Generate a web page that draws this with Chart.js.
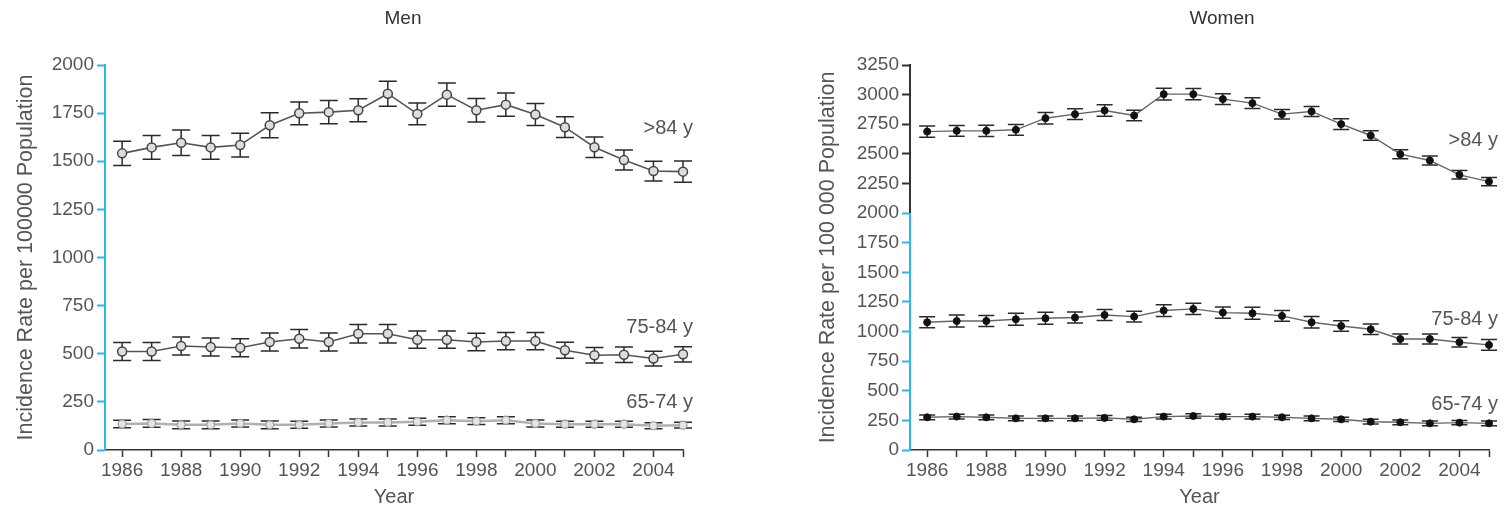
<!DOCTYPE html>
<html>
<head>
<meta charset="utf-8">
<script src="https://cdn.jsdelivr.net/npm/chart.js@4"></script>
<style>
  body { margin: 0; background: #fff; }
  .panel { position: absolute; top: 0; }
</style>
</head>
<body>
<div class="panel" style="left:0"><canvas id="menChart" width="800" height="511"></canvas></div>
<div class="panel" style="left:800px"><canvas id="womenChart" width="707" height="511"></canvas></div>
<script>
const years = [1986, 1987, 1988, 1989, 1990, 1991, 1992, 1993, 1994, 1995,
               1996, 1997, 1998, 1999, 2000, 2001, 2002, 2003, 2004, 2005];
const seriesNames = ['>84 y', '75-84 y', '65-74 y'];

// Men, incidence per 100 000, with half-width of the error bar
const menOver84 = [1541, 1572, 1596, 1572, 1584, 1687, 1749, 1755, 1765, 1851,
                   1746, 1846, 1765, 1794, 1743, 1677, 1573, 1506, 1449, 1446];
const menOver84Err = [63, 62, 66, 62, 62, 65, 59, 60, 60, 65,
                      56, 60, 61, 60, 57, 54, 53, 52, 51, 55];
const men75to84 = [512, 512, 540, 535, 531, 561, 578, 561, 604, 604,
                   573, 573, 561, 566, 566, 518, 492, 495, 475, 497];
const men75to84Err = [47, 47, 47, 47, 47, 47, 48, 47, 48, 48,
                      45, 45, 45, 45, 45, 42, 40, 40, 38, 40];
const men65to74 = [135, 138, 131, 131, 138, 131, 131, 138, 143, 143,
                   147, 155, 150, 155, 138, 134, 134, 134, 126, 129];
const men65to74Err = [20, 20, 20, 20, 18, 20, 18, 18, 18, 18,
                      18, 18, 18, 18, 18, 16, 16, 16, 15, 15];

// Women
const womenOver84 = [2688, 2694, 2694, 2703, 2801, 2835, 2866, 2824, 3004, 3004,
                     2962, 2928, 2835, 2858, 2751, 2655, 2497, 2444, 2323, 2266];
const womenOver84Err = [48, 45, 48, 45, 48, 45, 48, 45, 49, 48,
                        45, 45, 40, 42, 45, 40, 38, 38, 36, 35];
const women75to84 = [1078, 1089, 1089, 1104, 1112, 1118, 1140, 1126, 1177, 1191,
                     1160, 1154, 1132, 1078, 1047, 1019, 937, 937, 910, 887];
const women75to84Err = [46, 50, 46, 50, 50, 46, 46, 45, 50, 48,
                        48, 50, 45, 48, 45, 45, 42, 42, 40, 45];
const women65to74 = [276, 282, 276, 267, 267, 267, 271, 259, 282, 287,
                     282, 282, 276, 267, 259, 239, 234, 225, 231, 225];
const women65to74Err = [20, 20, 20, 20, 20, 20, 20, 18, 20, 20,
                        20, 20, 18, 20, 18, 20, 20, 20, 18, 20];

const menTicks = [0, 2000, 250];
const womenTicks = [0, 3250, 250];

const FONT = '"Liberation Sans", Arial, sans-serif';
const CYAN = '#2bb7ec';
const TXT = '#555';

function points(vals) {
    return vals.map((v, i) => ({ x: years[i], y: v }));
}

// draws the vertical error bars with caps, under the line and points
const errorBars = {
    id: 'errorBars',
    beforeDatasetDraw(chart, args) {
        const ds = chart.data.datasets[args.index];
        if (!ds.errors) return;
        const ctx = chart.ctx;
        const ys = chart.scales.y;
        const cap = ds.capHalf || 8;
        ctx.save();
        ctx.strokeStyle = '#2a2a2a';
        ctx.lineWidth = 1.5;
        args.meta.data.forEach((pt, i) => {
            const v = ds.data[i].y, e = ds.errors[i];
            const top = ys.getPixelForValue(v + e);
            const bot = ys.getPixelForValue(v - e);
            ctx.beginPath();
            ctx.moveTo(pt.x, top); ctx.lineTo(pt.x, bot);
            ctx.moveTo(pt.x - cap, top); ctx.lineTo(pt.x + cap, top);
            ctx.moveTo(pt.x - cap, bot); ctx.lineTo(pt.x + cap, bot);
            ctx.stroke();
        });
        ctx.restore();
    }
};

// panel title, series labels and the dark upper part of the women axis
const panelText = {
    id: 'panelText',
    afterDraw(chart, args, opts) {
        const ctx = chart.ctx;
        const xs = chart.scales.x, ys = chart.scales.y;
        ctx.save();
        ctx.font = '19px ' + FONT;
        ctx.fillStyle = '#333';
        ctx.textAlign = 'center';
        ctx.textBaseline = 'middle';
        ctx.fillText(opts.title, opts.titleX, 19);

        ctx.fillStyle = TXT;
        ctx.font = '20px ' + FONT;
        ctx.textAlign = 'right';
        const xr = xs.getPixelForValue(years[years.length - 1]) + opts.labelDx;
        chart.data.datasets.forEach((ds, i) => {
            const last = ds.data[ds.data.length - 1].y;
            ctx.fillText(ds.label, xr, ys.getPixelForValue(last) + opts.labelDy[i]);
        });

        if (opts.darkFrom !== undefined) {
            ctx.strokeStyle = '#333';
            ctx.lineWidth = 2;
            ctx.beginPath();
            ctx.moveTo(chart.chartArea.left, ys.getPixelForValue(opts.darkFrom));
            ctx.lineTo(chart.chartArea.left, ys.getPixelForValue(ys.max) - 1);
            ctx.stroke();
        }
        ctx.restore();
    }
};

function makeChart(id, cfg) {
    const ctx = document.getElementById(id).getContext('2d');
    return new Chart(ctx, {
        type: 'line',
        data: { datasets: cfg.datasets },
        options: {
            responsive: false,
            animation: false,
            events: [],
            layout: { padding: { top: 65, right: cfg.padRight, left: 0, bottom: 0 } },
            plugins: {
                legend: { display: false },
                tooltip: { enabled: false },
                panelText: cfg.text
            },
            scales: {
                x: {
                    type: 'linear',
                    min: 1985.42,
                    max: 2005,
                    ticks: {
                        stepSize: 1,
                        includeBounds: false,
                        autoSkip: false,
                        maxRotation: 0,
                        padding: 2,
                        color: TXT,
                        font: { family: FONT, size: 19 },
                        callback: v => (v % 2 === 0 ? String(v) : '')
                    },
                    grid: { drawOnChartArea: false, tickLength: 7, tickColor: '#333', tickWidth: 1.5 },
                    border: { color: '#333', width: 1.5 },
                    title: {
                        display: true, text: 'Year', color: TXT,
                        font: { family: FONT, size: 20 },
                        padding: { top: 0, bottom: 2 }
                    },
                    afterFit: s => { s.height = 61; }
                },
                y: {
                    min: cfg.ticks[0],
                    max: cfg.ticks[1],
                    ticks: {
                        stepSize: cfg.ticks[2],
                        padding: 3,
                        color: TXT,
                        font: { family: FONT, size: 19 },
                        callback: v => String(v)
                    },
                    grid: {
                        drawOnChartArea: false,
                        tickLength: 8,
                        tickWidth: 2,
                        tickColor: c => (cfg.darkFrom !== undefined && c.tick && c.tick.value > cfg.darkFrom ? '#333' : CYAN)
                    },
                    border: { color: CYAN, width: 2 },
                    title: {
                        display: true, text: cfg.yTitle, color: TXT,
                        font: { family: FONT, size: 21.5 },
                        padding: { top: cfg.yTitlePad, bottom: 0 }
                    },
                    afterFit: s => { s.width = cfg.yWidth; }
                }
            }
        },
        plugins: [errorBars, panelText]
    });
}

const menStyle = {
    clip: false,
    borderColor: '#555', borderWidth: 1.6,
    pointRadius: 4.5, pointBackgroundColor: '#ddd', pointBorderColor: '#444', pointBorderWidth: 1.5,
    capHalf: 9
};
const menYoungStyle = {
    clip: false,
    borderColor: '#b0b0b0', borderWidth: 2.5,
    pointRadius: 4, pointBackgroundColor: '#e4e4e4', pointBorderColor: '#999', pointBorderWidth: 1.2,
    capHalf: 9
};
const womenStyle = {
    clip: false,
    borderColor: '#666', borderWidth: 1.4,
    pointRadius: 3.5, pointBackgroundColor: '#111', pointBorderColor: '#111', pointBorderWidth: 1,
    capHalf: 8
};

makeChart('menChart', {
    padRight: 117,
    yWidth: 105,
    yTitlePad: 13,
    ticks: menTicks,
    yTitle: 'Incidence Rate per 100000 Population',
    datasets: [
        Object.assign({ label: seriesNames[0], data: points(menOver84), errors: menOver84Err }, menStyle),
        Object.assign({ label: seriesNames[1], data: points(men75to84), errors: men75to84Err }, menStyle),
        Object.assign({ label: seriesNames[2], data: points(men65to74), errors: men65to74Err }, menYoungStyle)
    ],
    text: { title: 'Men', titleX: 403, labelDx: 10, labelDy: [-43, -27, -23] }
});

makeChart('womenChart', {
    padRight: 18,
    yWidth: 110,
    yTitlePad: 15,
    ticks: womenTicks,
    darkFrom: 2000,
    yTitle: 'Incidence Rate per 100 000 Population',
    datasets: [
        Object.assign({ label: seriesNames[0], data: points(womenOver84), errors: womenOver84Err }, womenStyle),
        Object.assign({ label: seriesNames[1], data: points(women75to84), errors: women75to84Err }, womenStyle),
        Object.assign({ label: seriesNames[2], data: points(women65to74), errors: women65to74Err }, womenStyle)
    ],
    text: { title: 'Women', titleX: 422, labelDx: 9, labelDy: [-41, -25, -19], darkFrom: 2000 }
});
</script>
</body>
</html>
